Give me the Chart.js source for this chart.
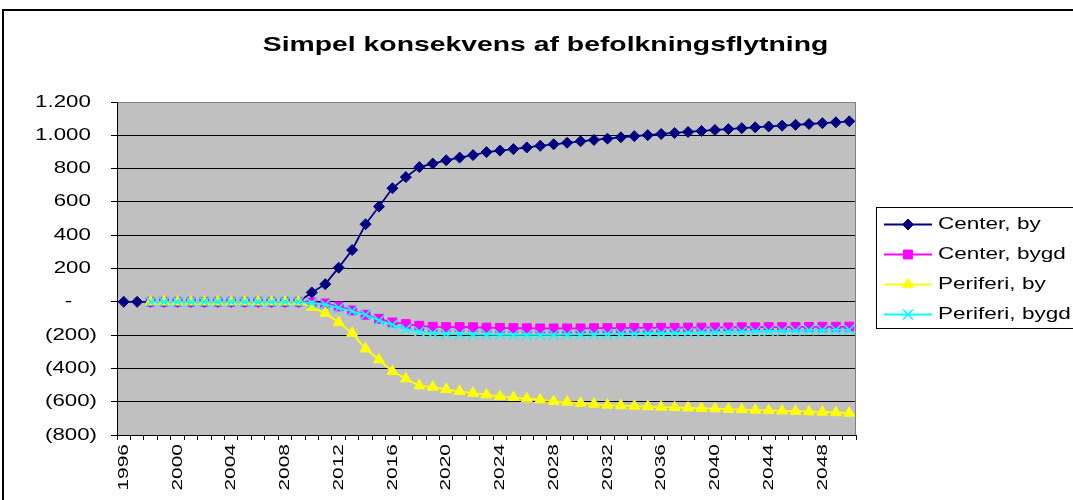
<!DOCTYPE html>
<html>
<head>
<meta charset="utf-8">
<script src="https://cdn.jsdelivr.net/npm/chart.js@4.4.0/dist/chart.umd.min.js"></script>
<style>
html,body{margin:0;padding:0;background:#fff;overflow:hidden;}
#wrap{width:1073px;height:500px;position:relative;}
canvas{display:block;}
</style>
</head>
<body>
<div id="wrap"><canvas id="c" width="1073" height="500"></canvas></div>
<script>
const TITLE = 'Simpel konsekvens af befolkningsflytning';

const years = ['1996','1997','1998','1999','2000','2001','2002','2003','2004','2005',
  '2006','2007','2008','2009','2010','2011','2012','2013','2014','2015',
  '2016','2017','2018','2019','2020','2021','2022','2023','2024','2025',
  '2026','2027','2028','2029','2030','2031','2032','2033','2034','2035',
  '2036','2037','2038','2039','2040','2041','2042','2043','2044','2045',
  '2046','2047','2048','2049','2050'];

const xTickLabels = ['1996','2000','2004','2008','2012','2016','2020','2024','2028','2032','2036','2040','2044','2048'];

const yTickValues = [-800,-600,-400,-200,0,200,400,600,800,1000,1200];
const yTickLabels = ['(800)','(600)','(400)','(200)','-','200','400','600','800','1.000','1.200'];

const centerBy = [0,0,0,0,0,0,0,0,0,0,0,0,0,0,
  56,106,205,311,466,572,682,749,809,830,850,866,881,899,
  908,917,927,937,946,955,964,972,
  980,988,995,1001,1008,1014,1020,1026,1032,1037,1043,1048,1053,1058,1063,1068,1073,1078,1084];

const centerBygd = [null,null,0,0,0,0,0,0,0,0,0,0,0,0,
  -4,-10,-28,-52,-78,-102,-124,-134,-144,-150,-152,-152,-153,-155,
  -157,-158,-159,-160,-160,-160,-160,-159,-158,-158,-157,-157,-156,-156,-155,-155,
  -154,-154,-153,-153,-152,-152,-151,-151,-150,-150,-149];

const periferiBy = [null,null,0,0,0,0,0,0,0,0,0,0,0,0,
  -32,-68,-124,-188,-282,-348,-418,-462,-504,-512,-526,-538,-548,-558,
  -568,-574,-582,-588,-598,-602,-608,-614,-620,-623,-626,-629,-632,-634,-637,-640,
  -642,-645,-647,-650,-652,-655,-657,-660,-662,-665,-668];

const periferiBygd = [null,null,0,0,0,0,0,0,0,0,0,0,0,0,
  -8,-16,-36,-56,-78,-112,-138,-164,-178,-188,-192,-194,-196,-197,
  -198,-199,-199,-199,-198,-197,-196,-195,-194,-192,-191,-189,-188,-186,-185,-183,
  -182,-180,-179,-177,-176,-174,-173,-171,-170,-169,-168];

const FAMILY = '"Liberation Sans", Arial, sans-serif';
const SX = 1.35; // text is drawn horizontally widened, as in the reference

const canvas = document.getElementById('c');
const ctx = canvas.getContext('2d');
const _mt = ctx.measureText.bind(ctx);
ctx.measureText = function (t) {
  const m = _mt(t);
  return {
    width: m.width * SX,
    actualBoundingBoxLeft: (m.actualBoundingBoxLeft || 0) * SX,
    actualBoundingBoxRight: (m.actualBoundingBoxRight || 0) * SX,
    actualBoundingBoxAscent: m.actualBoundingBoxAscent,
    actualBoundingBoxDescent: m.actualBoundingBoxDescent,
    fontBoundingBoxAscent: m.fontBoundingBoxAscent,
    fontBoundingBoxDescent: m.fontBoundingBoxDescent
  };
};
const _ft = ctx.fillText.bind(ctx);
ctx.fillText = function (t, x, y, w) {
  ctx.save();
  ctx.translate(x, y);
  ctx.scale(SX, 1);
  if (w === undefined || w === null) _ft(t, 0, 0); else _ft(t, 0, 0, w / SX);
  ctx.restore();
};

function drawMarker(c, style, r, x, y, color, bw) {
  c.save();
  c.fillStyle = color; c.strokeStyle = color; c.lineWidth = bw;
  c.beginPath();
  if (style === 'rectRot') {
    c.moveTo(x, y - r); c.lineTo(x + r, y); c.lineTo(x, y + r); c.lineTo(x - r, y); c.closePath();
    c.fill(); c.stroke();
  } else if (style === 'rect') {
    const s = r * Math.SQRT1_2;
    c.rect(x - s, y - s, 2 * s, 2 * s); c.fill(); c.stroke();
  } else if (style === 'triangle') {
    let a = 0;
    c.moveTo(x + Math.sin(a) * r, y - Math.cos(a) * r);
    a += 2 * Math.PI / 3; c.lineTo(x + Math.sin(a) * r, y - Math.cos(a) * r);
    a += 2 * Math.PI / 3; c.lineTo(x + Math.sin(a) * r, y - Math.cos(a) * r);
    c.closePath(); c.fill(); c.stroke();
  } else if (style === 'crossRot') {
    const o = r * Math.SQRT1_2;
    c.moveTo(x - o, y - o); c.lineTo(x + o, y + o);
    c.moveTo(x - o, y + o); c.lineTo(x + o, y - o);
    c.stroke();
  }
  c.restore();
}

const frame = {
  id: 'frame',
  beforeDraw(chart) {
    const c = chart.ctx, a = chart.chartArea;
    c.save();
    c.fillStyle = '#ffffff';
    c.fillRect(0, 0, chart.width, chart.height);
    c.fillStyle = '#C0C0C0';
    c.fillRect(a.left, a.top, a.right - a.left, a.bottom - a.top);
    c.strokeStyle = '#000000';
    c.lineWidth = 2;
    c.strokeRect(3, 10, 1100, 600);
    c.restore();
  },
  beforeDatasetsDraw(chart) {
    const c = chart.ctx, a = chart.chartArea;
    c.save();
    c.strokeStyle = '#808080';
    c.lineWidth = 1;
    c.beginPath();
    c.moveTo(Math.round(a.right) - 0.5, a.top);
    c.lineTo(Math.round(a.right) - 0.5, a.bottom);
    c.stroke();
    c.restore();
  },
  afterDraw(chart) {
    const c = chart.ctx;
    c.save();
    c.fillStyle = '#000';
    c.font = 'bold 21px ' + FAMILY;
    c.textAlign = 'center';
    c.textBaseline = 'alphabetic';
    c.fillText(TITLE, 545.5, 51);

    // legend
    c.strokeStyle = '#000';
    c.lineWidth = 1;
    c.strokeRect(876.5, 207.5, 300, 121);
    c.font = '16.7px ' + FAMILY;
    c.textAlign = 'left';
    c.textBaseline = 'middle';
    chart.data.datasets.forEach((ds, i) => {
      const y = 224.5 + i * 30;
      c.strokeStyle = ds.borderColor;
      c.lineWidth = ds.borderWidth;
      c.beginPath(); c.moveTo(884, y); c.lineTo(932, y); c.stroke();
      drawMarker(c, ds.pointStyle, ds.pointRadius, 908, y, ds.borderColor, ds.pointBorderWidth);
      c.fillStyle = '#000';
      c.fillText(ds.label, 938, y);
    });
    c.restore();
  }
};

new Chart(ctx, {
  type: 'line',
  data: {
    labels: years,
    datasets: [
      { label: 'Center, by', data: centerBy, borderColor: '#000080', backgroundColor: '#000080',
        pointBackgroundColor: '#000080', pointBorderColor: '#000080',
        pointStyle: 'rectRot', pointRadius: 5.5, borderWidth: 1.8, pointBorderWidth: 1, order: 4 },
      { label: 'Center, bygd', data: centerBygd, borderColor: '#FF00FF', backgroundColor: '#FF00FF',
        pointBackgroundColor: '#FF00FF', pointBorderColor: '#FF00FF',
        pointStyle: 'rect', pointRadius: 6.3, borderWidth: 1.8, pointBorderWidth: 1, order: 3 },
      { label: 'Periferi, by', data: periferiBy, borderColor: '#FFFF00', backgroundColor: '#FFFF00',
        pointBackgroundColor: '#FFFF00', pointBorderColor: '#FFFF00',
        pointStyle: 'triangle', pointRadius: 6.3, borderWidth: 1.8, pointBorderWidth: 1, order: 2 },
      { label: 'Periferi, bygd', data: periferiBygd, borderColor: '#00FFFF', backgroundColor: '#00FFFF',
        pointBackgroundColor: '#00FFFF', pointBorderColor: '#00FFFF',
        pointStyle: 'crossRot', pointRadius: 7, borderWidth: 1.8, pointBorderWidth: 1.6, order: 1 }
    ]
  },
  options: {
    responsive: false,
    animation: false,
    devicePixelRatio: 1,
    layout: { padding: { left: 0, top: 102, right: 217, bottom: 0 } },
    elements: { line: { tension: 0 } },
    plugins: { legend: { display: false }, title: { display: false }, tooltip: { enabled: false } },
    scales: {
      x: {
        type: 'category',
        offset: true,
        grid: { offset: true, drawOnChartArea: false, drawTicks: true, tickLength: 5, color: '#000', lineWidth: 1 },
        border: { color: '#000', width: 1 },
        ticks: {
          autoSkip: false, minRotation: 90, maxRotation: 90, padding: 4, color: '#000',
          font: { family: FAMILY, size: 15.5 },
          callback(v, i) { const l = years[i]; return xTickLabels.includes(l) ? l : ''; }
        },
        afterFit(s) { s.height = 65; }
      },
      y: {
        min: -800, max: 1200,
        grid: {
          color(c) { return c.tick && c.tick.value === 1200 ? '#808080' : '#000'; },
          tickColor: '#000', tickLength: 6, lineWidth: 1
        },
        border: { color: '#000', width: 1 },
        ticks: {
          stepSize: 200, padding: 14, color: '#000',
          font: { family: FAMILY, size: 16.5 },
          callback(v) {
            const i = yTickValues.indexOf(v);
            if (i < 0) return '';
            const t = yTickLabels[i];
            if (v === 0) return t + '    ';
            return v > 0 ? t + ' ' : t;
          }
        },
        afterFit(s) { s.width = 117; }
      }
    }
  },
  plugins: [frame]
});
</script>
</body>
</html>
